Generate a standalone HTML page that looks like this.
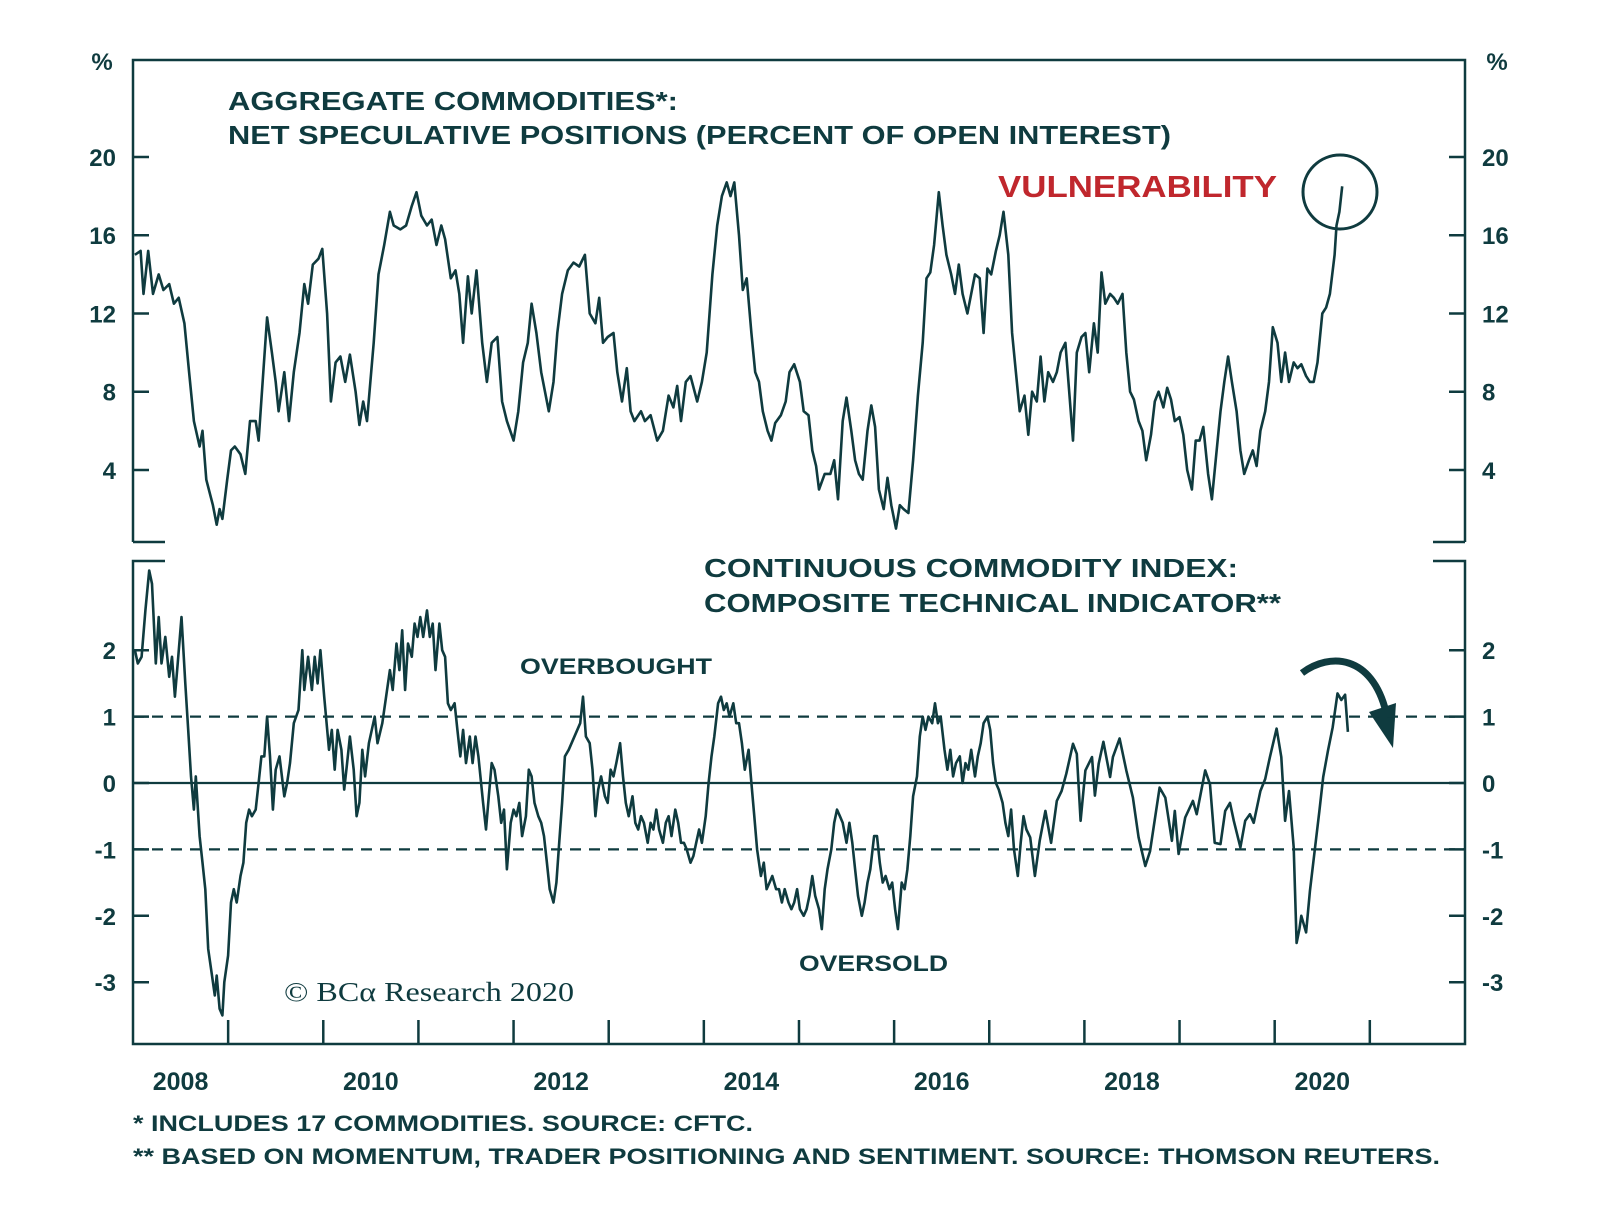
<!DOCTYPE html>
<html><head><meta charset="utf-8"><style>
html,body{margin:0;padding:0;background:#fff;}
svg{display:block;font-family:"Liberation Sans",sans-serif;}
.t{fill:#0f3b3f;font-weight:bold;}
</style></head><body>
<svg id="chart" width="1600" height="1214" viewBox="0 0 1600 1214" xmlns="http://www.w3.org/2000/svg">
<g id="frame" stroke="#0f3b3f" stroke-width="2.5" fill="none">
  <path d="M133 542 V60 H1465 V542 M133 542 H165 M1433 542 H1465"/>
  <path d="M165 561 H133 V1044 H1465 V561 H1433"/>
</g>
<text class="t" x="102" y="70" font-size="24" text-anchor="middle">%</text>
<text class="t" x="1497" y="70" font-size="24" text-anchor="middle">%</text>
<text class="t" x="228" y="110" font-size="26" textLength="450" lengthAdjust="spacingAndGlyphs">AGGREGATE COMMODITIES*:</text>
<text class="t" x="228" y="144" font-size="26" textLength="943" lengthAdjust="spacingAndGlyphs">NET SPECULATIVE POSITIONS (PERCENT OF OPEN INTEREST)</text>
<text x="998" y="197" font-size="31" font-weight="bold" fill="#c0272d" textLength="279" lengthAdjust="spacingAndGlyphs">VULNERABILITY</text>
<circle cx="1340" cy="192" r="37" fill="none" stroke="#0f3b3f" stroke-width="3"/>
<text class="t" x="704" y="577" font-size="26" textLength="534" lengthAdjust="spacingAndGlyphs">CONTINUOUS COMMODITY INDEX:</text>
<text class="t" x="704" y="612" font-size="26" textLength="577" lengthAdjust="spacingAndGlyphs">COMPOSITE TECHNICAL INDICATOR**</text>
<text class="t" x="520" y="674" font-size="22" textLength="192" lengthAdjust="spacingAndGlyphs">OVERBOUGHT</text>
<text class="t" x="799" y="971" font-size="22" textLength="149" lengthAdjust="spacingAndGlyphs">OVERSOLD</text>
<text x="284" y="1001" font-size="27" fill="#0f3b3f" font-family="Liberation Serif, serif" textLength="290" lengthAdjust="spacingAndGlyphs">© BCα Research 2020</text>
<text class="t" x="133" y="1131" font-size="22" textLength="620" lengthAdjust="spacingAndGlyphs">*  INCLUDES 17 COMMODITIES. SOURCE: CFTC.</text>
<text class="t" x="133" y="1164" font-size="22" textLength="1307" lengthAdjust="spacingAndGlyphs">** BASED ON MOMENTUM, TRADER POSITIONING AND SENTIMENT. SOURCE: THOMSON REUTERS.</text>
<g>
  <path d="M1302 673 C1330 652 1372 655 1386 712" fill="none" stroke="#0f3b3f" stroke-width="7"/>
  <path d="M1369 712 L1396 703 L1393 748 Z" fill="#0f3b3f"/>
</g>
<g id="axes"></g>
<g id="series"></g>
</svg>
<script>
const upperTicks = [4, 8, 12, 16, 20];
const lowerTicks = [-3, -2, -1, 0, 1, 2];
const yearTicks = [2009,2010,2011,2012,2013,2014,2015,2016,2017,2018,2019,2020,2021];
const yearLabels = ["2008","2010","2012","2014","2016","2018","2020"];

const upperDates = [2008.02,2008.08,2008.11,2008.16,2008.21,2008.27,2008.32,2008.38,2008.43,2008.48,2008.54,2008.59,2008.64,2008.70,2008.73,2008.77,2008.84,2008.88,2008.91,2008.94,2008.99,2009.03,2009.07,2009.13,2009.18,2009.23,2009.29,2009.32,2009.37,2009.41,2009.46,2009.50,2009.53,2009.59,2009.64,2009.69,2009.75,2009.80,2009.84,2009.89,2009.95,2009.99,2010.04,2010.08,2010.13,2010.18,2010.23,2010.28,2010.34,2010.38,2010.42,2010.46,2010.53,2010.58,2010.64,2010.70,2010.74,2010.81,2010.87,2010.93,2010.98,2011.03,2011.09,2011.14,2011.19,2011.24,2011.28,2011.34,2011.39,2011.43,2011.47,2011.52,2011.56,2011.61,2011.67,2011.72,2011.77,2011.83,2011.88,2011.93,2012.00,2012.05,2012.10,2012.15,2012.19,2012.24,2012.29,2012.33,2012.37,2012.42,2012.46,2012.51,2012.57,2012.63,2012.69,2012.75,2012.80,2012.86,2012.90,2012.94,2012.99,2013.05,2013.09,2013.14,2013.19,2013.23,2013.27,2013.34,2013.38,2013.44,2013.51,2013.57,2013.63,2013.68,2013.72,2013.76,2013.81,2013.86,2013.93,2013.98,2014.03,2014.09,2014.14,2014.19,2014.24,2014.28,2014.32,2014.37,2014.41,2014.45,2014.50,2014.54,2014.58,2014.62,2014.67,2014.71,2014.75,2014.81,2014.86,2014.90,2014.95,2015.01,2015.05,2015.10,2015.14,2015.18,2015.21,2015.27,2015.33,2015.37,2015.41,2015.46,2015.50,2015.55,2015.59,2015.63,2015.67,2015.72,2015.76,2015.80,2015.84,2015.89,2015.93,2015.97,2016.02,2016.06,2016.10,2016.15,2016.20,2016.25,2016.30,2016.34,2016.38,2016.42,2016.47,2016.51,2016.55,2016.60,2016.64,2016.68,2016.72,2016.77,2016.81,2016.85,2016.90,2016.94,2016.98,2017.02,2017.07,2017.11,2017.15,2017.20,2017.24,2017.28,2017.32,2017.37,2017.41,2017.45,2017.50,2017.54,2017.58,2017.62,2017.67,2017.71,2017.75,2017.80,2017.84,2017.88,2017.92,2017.97,2018.01,2018.05,2018.10,2018.14,2018.18,2018.22,2018.27,2018.31,2018.35,2018.40,2018.44,2018.48,2018.52,2018.57,2018.61,2018.65,2018.70,2018.74,2018.78,2018.83,2018.87,2018.91,2018.95,2019.00,2019.04,2019.08,2019.13,2019.17,2019.21,2019.25,2019.30,2019.34,2019.38,2019.43,2019.47,2019.51,2019.55,2019.60,2019.64,2019.68,2019.73,2019.77,2019.81,2019.85,2019.90,2019.94,2019.98,2020.03,2020.07,2020.11,2020.15,2020.20,2020.24,2020.28,2020.33,2020.37,2020.41,2020.45,2020.50,2020.54,2020.58,2020.63,2020.65,2020.68,2020.71];
const upperValues = [15,15.2,13,15.2,13,14,13.2,13.5,12.5,12.8,11.5,9,6.5,5.2,6,3.5,2.2,1.2,2,1.5,3.5,5,5.2,4.8,3.8,6.5,6.5,5.5,9,11.8,10,8.5,7,9,6.5,9,11,13.5,12.5,14.5,14.8,15.3,12,7.5,9.5,9.8,8.5,9.9,8,6.3,7.5,6.5,10.5,14,15.5,17.2,16.5,16.3,16.5,17.5,18.2,17,16.5,16.8,15.5,16.5,15.8,13.8,14.2,13,10.5,13.9,12,14.2,10.5,8.5,10.5,10.8,7.5,6.5,5.5,7,9.5,10.5,12.5,11,9,8,7,8.5,11,13,14.2,14.6,14.4,15,12,11.5,12.8,10.5,10.8,11,9,7.5,9.2,7,6.5,7,6.5,6.8,5.5,6,7.8,7.2,8.3,6.5,8.5,8.8,7.5,8.5,10,14,16.5,18,18.7,18,18.7,16,13.2,13.8,11,9,8.5,7,6,5.5,6.4,6.8,7.5,9,9.4,8.5,7,6.8,5,4.2,3,3.8,3.8,4.5,2.5,6.5,7.7,6,4.5,3.8,3.5,6,7.3,6.2,3,2,3.6,2.2,1,2.2,2,1.8,4.5,7.8,10.5,13.8,14.1,15.5,18.2,16.5,15,14,13,14.5,13,12,13,14,13.8,11,14.3,14,15.2,16,17.2,15,11,9,7,7.8,5.8,8,7.5,9.8,7.5,9,8.5,9,10,10.5,8,5.5,10,10.8,11,9,11.5,10,14.1,12.5,13,12.8,12.5,13,10,8,7.6,6.5,6,4.5,5.8,7.5,8,7.2,8.2,7.6,6.5,6.7,5.8,4,3,5.5,5.5,6.2,3.8,2.5,4.5,7,8.5,9.8,8.5,7,5,3.8,4.5,5,4.2,6,7,8.5,11.3,10.5,8.5,10,8.5,9.5,9.2,9.4,8.8,8.5,8.5,9.5,12,12.3,13,15,16.5,17.2,18.5];

const lowerDates = [2008.02,2008.05,2008.09,2008.13,2008.17,2008.20,2008.24,2008.27,2008.30,2008.34,2008.38,2008.41,2008.44,2008.47,2008.51,2008.55,2008.58,2008.61,2008.64,2008.66,2008.70,2008.73,2008.76,2008.79,2008.83,2008.86,2008.88,2008.91,2008.94,2008.96,2009.00,2009.03,2009.06,2009.09,2009.13,2009.16,2009.19,2009.22,2009.25,2009.29,2009.32,2009.35,2009.38,2009.41,2009.44,2009.47,2009.50,2009.54,2009.59,2009.62,2009.65,2009.69,2009.74,2009.78,2009.80,2009.84,2009.88,2009.91,2009.94,2009.97,2010.01,2010.06,2010.09,2010.12,2010.15,2010.19,2010.22,2010.25,2010.28,2010.32,2010.35,2010.38,2010.41,2010.44,2010.48,2010.51,2010.54,2010.57,2010.62,2010.66,2010.70,2010.73,2010.77,2010.80,2010.83,2010.86,2010.89,2010.93,2010.96,2010.99,2011.02,2011.05,2011.09,2011.12,2011.15,2011.18,2011.22,2011.25,2011.28,2011.31,2011.34,2011.38,2011.41,2011.44,2011.47,2011.50,2011.54,2011.57,2011.60,2011.63,2011.68,2011.71,2011.74,2011.77,2011.80,2011.84,2011.87,2011.90,2011.93,2011.97,2012.00,2012.03,2012.06,2012.09,2012.13,2012.16,2012.19,2012.22,2012.26,2012.29,2012.32,2012.35,2012.38,2012.42,2012.45,2012.48,2012.51,2012.54,2012.58,2012.70,2012.73,2012.76,2012.80,2012.83,2012.86,2012.89,2012.92,2012.96,2012.99,2013.02,2013.05,2013.08,2013.12,2013.15,2013.18,2013.21,2013.25,2013.28,2013.31,2013.34,2013.37,2013.41,2013.44,2013.47,2013.50,2013.53,2013.57,2013.60,2013.63,2013.66,2013.70,2013.73,2013.76,2013.79,2013.82,2013.86,2013.89,2013.92,2013.95,2013.98,2014.02,2014.05,2014.08,2014.11,2014.15,2014.18,2014.21,2014.24,2014.27,2014.31,2014.34,2014.37,2014.40,2014.43,2014.47,2014.50,2014.53,2014.56,2014.60,2014.63,2014.66,2014.69,2014.72,2014.76,2014.79,2014.82,2014.85,2014.89,2014.92,2014.95,2014.98,2015.01,2015.05,2015.08,2015.11,2015.14,2015.17,2015.21,2015.24,2015.27,2015.30,2015.34,2015.37,2015.40,2015.43,2015.46,2015.50,2015.53,2015.56,2015.59,2015.62,2015.66,2015.69,2015.72,2015.75,2015.79,2015.82,2015.85,2015.88,2015.91,2015.95,2015.98,2016.01,2016.04,2016.08,2016.11,2016.14,2016.17,2016.20,2016.24,2016.27,2016.30,2016.33,2016.36,2016.40,2016.43,2016.46,2016.49,2016.53,2016.56,2016.59,2016.62,2016.65,2016.69,2016.72,2016.75,2016.78,2016.81,2016.85,2016.88,2016.91,2016.94,2016.98,2017.01,2017.04,2017.07,2017.10,2017.14,2017.17,2017.20,2017.23,2017.26,2017.30,2017.33,2017.36,2017.39,
2017.43,2017.48,2017.53,2017.59,2017.65,2017.71,2017.76,2017.81,2017.88,2017.92,2017.96,2018.01,2018.08,2018.11,2018.15,2018.20,2018.27,2018.30,2018.37,2018.44,2018.51,2018.57,2018.64,2018.69,2018.79,2018.85,2018.92,2018.95,2018.99,2019.06,2019.14,2019.18,2019.27,2019.32,2019.37,2019.43,2019.48,2019.53,2019.57,2019.64,2019.69,2019.74,2019.78,2019.85,2019.90,2019.95,2020.02,2020.07,2020.11,2020.15,2020.20,2020.23,2020.26,2020.28,2020.33,2020.37,2020.42,2020.47,2020.51,2020.56,2020.61,2020.66,2020.70,2020.74,2020.77];
const lowerValues = [2,1.8,1.9,2.6,3.2,3,1.8,2.5,1.8,2.2,1.6,1.9,1.3,1.8,2.5,1.5,0.8,0.1,-0.4,0.1,-0.8,-1.2,-1.6,-2.5,-2.9,-3.2,-2.9,-3.4,-3.5,-3.0,-2.6,-1.8,-1.6,-1.8,-1.4,-1.2,-0.6,-0.4,-0.5,-0.4,0,0.4,0.4,1,0.4,-0.4,0.2,0.4,-0.2,0,0.3,0.9,1.1,2,1.4,1.9,1.4,1.9,1.5,2,1.3,0.5,0.8,0.2,0.8,0.5,-0.1,0.3,0.7,0.2,-0.5,-0.3,0.5,0.1,0.6,0.8,1,0.6,0.9,1.3,1.7,1.4,2.1,1.7,2.3,1.4,2.1,1.9,2.4,2.2,2.5,2.2,2.6,2.2,2.4,1.7,2.4,2.0,1.9,1.2,1.1,1.2,0.8,0.4,0.8,0.3,0.7,0.3,0.7,0.4,-0.3,-0.7,-0.2,0.3,0.2,-0.2,-0.6,-0.4,-1.3,-0.6,-0.4,-0.5,-0.3,-0.8,-0.5,0.2,0.1,-0.3,-0.5,-0.6,-0.8,-1.2,-1.6,-1.8,-1.5,-0.9,-0.3,0.4,0.5,0.9,1.3,0.7,0.6,0.2,-0.5,-0.1,0.1,-0.2,-0.3,0.2,0.1,0.3,0.6,0.1,-0.3,-0.5,-0.2,-0.6,-0.7,-0.5,-0.6,-0.9,-0.6,-0.7,-0.4,-0.7,-0.9,-0.6,-0.5,-0.8,-0.4,-0.6,-0.9,-0.9,-1.0,-1.2,-1.1,-0.9,-0.7,-0.9,-0.5,0.0,0.4,0.7,1.2,1.3,1.1,1.2,1.0,1.2,0.9,0.9,0.6,0.2,0.5,0.0,-0.5,-1.0,-1.4,-1.2,-1.6,-1.5,-1.4,-1.6,-1.6,-1.8,-1.6,-1.8,-1.9,-1.8,-1.6,-1.9,-2.0,-1.9,-1.7,-1.4,-1.7,-1.9,-2.2,-1.6,-1.3,-1.0,-0.6,-0.4,-0.5,-0.6,-0.9,-0.6,-0.9,-1.3,-1.7,-2.0,-1.8,-1.5,-1.3,-0.8,-0.8,-1.2,-1.5,-1.4,-1.6,-1.5,-1.9,-2.2,-1.5,-1.6,-1.3,-0.8,-0.2,0.1,0.7,1.0,0.8,1.0,0.9,1.2,0.9,1.0,0.5,0.2,0.5,0.1,0.3,0.4,0.0,0.3,0.2,0.5,0.1,0.4,0.6,0.9,1.0,0.8,0.3,0.0,-0.1,-0.3,-0.6,-0.8,-0.4,-1.0,-1.4,-0.9,-0.5,-0.7,
-0.82,-1.4,-0.87,-0.42,-0.9,-0.27,-0.12,0.14,0.59,0.44,-0.57,0.19,0.39,-0.19,0.29,0.62,0.09,0.39,0.67,0.19,-0.22,-0.82,-1.25,-1.03,-0.07,-0.22,-0.87,-0.42,-1.07,-0.52,-0.27,-0.47,0.19,-0.02,-0.9,-0.92,-0.42,-0.3,-0.57,-0.97,-0.57,-0.47,-0.6,-0.12,0.06,0.39,0.82,0.39,-0.57,-0.12,-0.97,-2.41,-2.2,-2.0,-2.25,-1.63,-1.03,-0.42,0.09,0.49,0.84,1.35,1.25,1.33,0.77];

const NS = "http://www.w3.org/2000/svg";
const C = "#0f3b3f";
const xScale = t => 133 + (t - 2008) * 95.14;
const yUpper = v => 157 + (20 - v) * 19.56;
const yLower = v => 783 - v * 66.4;
const axes = document.getElementById('axes');
const series = document.getElementById('series');
function mk(tag, attrs, parent) {
  const e = document.createElementNS(NS, tag);
  for (const k in attrs) e.setAttribute(k, attrs[k]);
  parent.appendChild(e);
  return e;
}
upperTicks.forEach(v => {
  const y = yUpper(v);
  const a = mk('path', {d: `M133 ${y} H149 M1449 ${y} H1465`, stroke: C, 'stroke-width': 2.5}, axes);
  
  
  const l = mk('text', {x: 116, y: y + 9, 'font-size': 24, 'text-anchor': 'end', class: 't'}, axes);
  l.textContent = v;
  
  
  const r = mk('text', {x: 1482, y: y + 9, 'font-size': 24, class: 't'}, axes);
  r.textContent = v;
  
  
});
lowerTicks.forEach(v => {
  const y = yLower(v);
  const a = mk('path', {d: `M133 ${y} H149 M1449 ${y} H1465`, stroke: C, 'stroke-width': 2.5}, axes);
  
  
  const l = mk('text', {x: 116, y: y + 9, 'font-size': 24, 'text-anchor': 'end', class: 't'}, axes);
  l.textContent = v;
  
  
  const r = mk('text', {x: 1482, y: y + 9, 'font-size': 24, class: 't'}, axes);
  r.textContent = v;
  
  
  if (v === 0 || v === 1 || v === -1) {
    const g = mk('line', {x1: 133, x2: 1465, y1: y, y2: y, stroke: C, 'stroke-width': 2.2}, axes);
    if (v !== 0) g.setAttribute('stroke-dasharray', '11 8');
    
    
  }
});
yearTicks.forEach(yr => {
  const x = xScale(yr);
  const t = mk('line', {x1: x, x2: x, y1: 1044, y2: 1020, stroke: C, 'stroke-width': 2.5}, axes);
  
  
});
yearLabels.forEach(s => {
  const l = mk('text', {x: xScale(+s + 0.5), y: 1090, 'font-size': 25, 'text-anchor': 'middle', class: 't'}, axes);
  l.textContent = s;
  
  
});
function line(dates, vals, ys) {
  return dates.map((t, i) => (i ? 'L' : 'M') + xScale(t).toFixed(1) + ' ' + ys(vals[i]).toFixed(1)).join(' ');
}
const up = mk('path', {d: line(upperDates, upperValues, yUpper), fill: 'none', stroke: C, 'stroke-width': 2.6, 'stroke-linejoin': 'round'}, series);


const lo = mk('path', {d: line(lowerDates, lowerValues, yLower), fill: 'none', stroke: C, 'stroke-width': 2.6, 'stroke-linejoin': 'round'}, series);


</script>
</body></html>
